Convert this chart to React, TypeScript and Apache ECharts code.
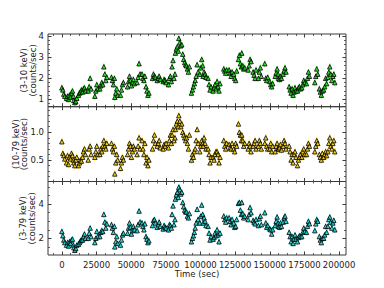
import React, { useEffect, useRef } from "react";
import * as echarts from "echarts";

// Time stamps (sec)
const times = [
  0, 700, 1400, 2100, 3400, 4100, 4800, 5500, 6250, 6950, 7650, 8350,
  8650, 9350, 10050, 10750, 12000, 12700, 13400, 14100, 14900, 15600, 16300, 17000,
  19000, 19700, 20400, 21100, 23800, 24500, 25200, 25900, 27400, 28100, 28800, 29500,
  30300, 31000, 31700, 32400, 35800, 36500, 37200, 37900, 38200, 38900, 39600, 40300,
  42300, 43000, 43700, 44400, 47400, 48100, 48800, 49500, 50200, 50900, 51600, 52300,
  54300, 55000, 55700, 56400, 57800, 58500, 59200, 59900, 60700, 61400, 62100, 62800,
  65400, 66100, 66800, 67500, 68800, 69500, 70200, 70900, 73100, 73800, 74500, 75200,
  76900, 77600, 78300, 79000, 79500, 80200, 80900, 81600, 81900, 82600, 83300, 84000,
  84400, 85100, 85800, 86500, 87200, 87900, 88600, 89300, 89900, 90600, 91300, 92000,
  93500, 94200, 94900, 95600, 96200, 96900, 97600, 98300, 99500, 100200, 100900, 101600,
  101900, 102600, 103300, 104000, 105500, 106200, 106900, 107600, 109100, 109800, 110500, 111200,
  112000, 112700, 113400, 114100, 116800, 117500, 118200, 118900, 120700, 121400, 122100, 122800,
  124000, 124700, 125400, 126100, 127400, 128100, 128800, 129500, 129800, 130500, 131200, 131900,
  134400, 135100, 135800, 136500, 138000, 138700, 139400, 140100, 141800, 142500, 143200, 143900,
  146400, 147100, 147800, 148500, 150000, 150700, 151400, 152100, 153900, 154600, 155300, 156000,
  156300, 157000, 157700, 158400, 159600, 160300, 161000, 161700, 164000, 164700, 165400, 166100,
  166800, 167500, 168200, 168900, 170000, 170700, 171400, 172100, 173100, 173800, 174500, 175200,
  176500, 177200, 177900, 178600, 182500, 183200, 183900, 184600, 185800, 186500, 187200, 187900,
  188900, 189600, 190300, 191000, 191900, 192600, 193300, 194000, 194800, 195500, 196200, 196900,
];

// 3-10 keV count rate
const rateSoft = [
  1.55, 1.45, 1.25, 1.15, 1.05, 1.15, 1.0, 1.2, 1.1, 1.3, 1.4, 1.15,
  0.95, 0.85, 0.9, 1.05, 1.2, 1.3, 1.35, 1.45, 1.35, 1.5, 1.55, 1.4,
  1.4, 1.6, 2.0, 1.5, 1.15, 1.4, 1.7, 1.5, 1.5, 1.65, 1.8, 1.7,
  2.55, 2.2, 1.9, 2.05, 2.05, 1.9, 1.7, 2.0, 1.1, 1.3, 1.5, 1.2,
  1.2, 1.45, 1.7, 1.8, 1.6, 1.85, 2.1, 1.9, 1.65, 1.8, 1.95, 1.75,
  1.8, 2.05, 2.7, 2.2, 2.2, 2.0, 1.9, 2.1, 1.6, 1.4, 1.2, 1.3,
  2.0, 2.2, 2.1, 2.05, 1.9, 2.0, 2.1, 1.95, 1.85, 1.95, 1.9, 1.8,
  1.7, 2.0, 2.1, 1.85, 2.55, 2.85, 2.0, 2.2, 3.2, 3.4, 3.5, 3.3,
  3.9, 3.7, 3.55, 3.6, 3.15, 2.9, 2.75, 2.65, 2.6, 2.45, 2.3, 2.55,
  1.3, 1.45, 1.6, 1.75, 1.9, 2.1, 2.65, 2.3, 2.2, 2.5, 2.9, 2.6,
  2.1, 2.3, 2.2, 2.05, 2.0, 1.7, 1.45, 1.6, 1.4, 1.55, 1.7, 1.5,
  1.85, 1.6, 1.4, 1.75, 2.45, 2.35, 2.25, 2.4, 2.4, 2.25, 2.1, 2.3,
  2.2, 2.0, 1.9, 2.35, 2.9, 3.1, 2.7, 2.55, 3.2, 2.6, 2.45, 2.5,
  2.4, 2.6, 2.9, 2.8, 2.3, 2.15, 2.0, 2.4, 2.0, 2.3, 2.5, 2.1,
  2.7, 2.0, 1.9, 2.05, 1.85, 1.7, 1.6, 1.75, 2.1, 2.25, 2.45, 2.2,
  2.0, 1.95, 2.1, 2.0, 2.2, 2.35, 2.5, 2.3, 1.6, 1.45, 1.3, 1.5,
  1.2, 1.35, 1.55, 1.4, 1.4, 1.55, 1.6, 1.5, 1.55, 1.7, 1.9, 1.8,
  1.75, 2.0, 2.3, 2.1, 1.8, 2.1, 2.45, 2.2, 1.5, 1.35, 1.2, 1.4,
  1.45, 1.6, 2.0, 1.75, 2.05, 2.3, 2.55, 2.2, 1.9, 2.1, 2.2, 1.8,
];

// 10-79 keV count rate
const rateHard = [
  0.83, 0.62, 0.58, 0.52, 0.45, 0.58, 0.42, 0.55, 0.52, 0.62, 0.58, 0.5,
  0.45, 0.4, 0.5, 0.55, 0.4, 0.45, 0.5, 0.48, 0.55, 0.65, 0.7, 0.6,
  0.5, 0.7, 0.75, 0.6, 0.55, 0.65, 0.75, 0.6, 0.6, 0.7, 0.65, 0.75,
  0.85, 0.75, 0.7, 0.8, 0.8, 0.7, 0.65, 0.75, 0.25, 0.45, 0.6, 0.5,
  0.35, 0.45, 0.55, 0.5, 0.6, 0.7, 0.8, 0.75, 0.55, 0.65, 0.75, 0.7,
  0.6, 0.75, 0.9, 0.7, 0.85, 0.7, 0.6, 0.8, 0.45, 0.55, 0.4, 0.5,
  0.7, 0.85, 0.95, 0.8, 0.75, 0.8, 0.85, 0.72, 0.7, 0.78, 0.75, 0.8,
  0.72, 0.85, 0.95, 0.8, 0.95, 1.05, 0.85, 0.9, 1.05, 1.15, 1.2, 1.1,
  1.3, 1.2, 1.1, 1.15, 1.0, 0.95, 0.9, 0.85, 0.9, 0.8, 0.7, 0.95,
  0.5, 0.6, 0.55, 0.65, 0.7, 0.85, 1.05, 0.8, 0.65, 0.75, 0.85, 0.8,
  0.75, 0.9, 0.8, 0.7, 0.7, 0.6, 0.45, 0.55, 0.55, 0.5, 0.6, 0.65,
  0.65, 0.6, 0.45, 0.55, 0.85, 0.75, 0.7, 0.8, 0.78, 0.72, 0.7, 0.8,
  0.7, 0.65, 0.8, 0.75, 1.15, 1.0, 0.95, 0.85, 0.95, 0.85, 0.75, 0.8,
  0.7, 0.8, 0.75, 0.65, 0.75, 0.8, 0.85, 0.7, 0.75, 0.85, 0.8, 0.7,
  0.8, 0.9, 0.75, 0.7, 0.7, 0.8, 0.65, 0.75, 0.65, 0.75, 0.8, 0.7,
  0.7, 0.72, 0.78, 0.68, 0.75, 0.85, 0.8, 0.7, 0.75, 0.65, 0.5, 0.6,
  0.45, 0.6, 0.65, 0.55, 0.4, 0.5, 0.55, 0.6, 0.55, 0.65, 0.7, 0.6,
  0.6, 0.7, 0.8, 0.75, 0.65, 0.75, 0.85, 0.8, 0.6, 0.55, 0.5, 0.62,
  0.55, 0.6, 0.65, 0.58, 0.65, 0.8, 0.9, 0.75, 0.7, 0.8, 0.85, 0.65,
];

// 3-79 keV count rate
const rateFull = [
  2.4, 2.15, 1.9, 1.75, 1.6, 1.75, 1.55, 1.8, 1.7, 1.9, 1.95, 1.6,
  1.45, 1.3, 1.4, 1.6, 1.65, 1.75, 1.85, 1.9, 1.9, 2.1, 2.25, 2.0,
  2.0, 2.3, 2.6, 2.1, 1.75, 2.0, 2.4, 2.1, 2.1, 2.35, 2.45, 2.4,
  3.4, 2.95, 2.6, 2.85, 2.8, 2.6, 2.35, 2.7, 1.5, 1.8, 2.1, 1.7,
  1.6, 1.9, 2.2, 2.3, 2.3, 2.6, 2.9, 2.65, 2.25, 2.45, 2.7, 2.5,
  2.45, 2.8, 3.6, 2.95, 2.9, 2.7, 2.5, 2.85, 2.1, 1.95, 1.75, 1.85,
  2.75, 3.05, 3.1, 2.9, 2.65, 2.8, 2.95, 2.7, 2.55, 2.75, 2.65, 2.6,
  2.5, 2.8, 2.75, 2.6, 3.4, 3.9, 2.8, 3.1, 4.3, 4.55, 4.7, 4.4,
  5.0, 4.85, 4.6, 4.7, 4.1, 3.85, 3.65, 3.55, 3.55, 3.3, 3.2, 3.45,
  1.8, 2.0, 2.15, 2.35, 2.6, 2.9, 3.7, 3.1, 2.9, 3.3, 3.95, 3.4,
  2.9, 3.2, 3.0, 2.75, 2.7, 2.3, 1.9, 2.1, 1.95, 2.05, 2.3, 2.15,
  2.5, 2.2, 1.8, 2.3, 3.3, 3.1, 2.95, 3.2, 3.2, 3.0, 2.8, 3.1,
  2.9, 2.65, 2.7, 3.1, 4.05, 4.1, 3.65, 3.4, 4.1, 3.45, 3.2, 3.3,
  3.1, 3.4, 3.8, 3.5, 3.05, 2.95, 2.85, 3.1, 2.75, 3.15, 3.3, 2.8,
  3.5, 2.9, 2.65, 2.75, 2.55, 2.5, 2.25, 2.5, 2.75, 3.0, 3.25, 2.9,
  2.7, 2.65, 2.9, 2.7, 2.95, 3.2, 3.3, 3.0, 2.35, 2.1, 1.8, 2.1,
  1.7, 1.95, 2.2, 1.95, 1.8, 2.05, 2.15, 2.1, 2.1, 2.35, 2.6, 2.4,
  2.35, 2.7, 3.0, 2.85, 2.45, 2.85, 3.1, 3.0, 2.1, 1.9, 1.75, 2.0,
  2.0, 2.2, 2.7, 2.35, 2.7, 3.1, 3.25, 2.95, 2.6, 2.9, 3.05, 2.5,
];

const panelLabels = ["(3-10 keV)", "(10-79 keV)", "(3-79 keV)"];
const unitLabel = "(counts/sec)";
const xTitle = "Time (sec)";

const xMajor = [0, 25000, 50000, 75000, 100000, 125000, 150000, 175000, 200000];
const xMinor = [
  -6250, 6250, 12500, 18750, 31250, 37500, 43750, 56250, 62500, 68750,
  81250, 87500, 93750, 106250, 112500, 118750, 131250, 137500, 143750,
  156250, 162500, 168750, 181250, 187500, 193750,
];
const yMajor1 = [1, 2, 3, 4];
const yMinor1 = [0.8, 1.2, 1.4, 1.6, 1.8, 2.2, 2.4, 2.6, 2.8, 3.2, 3.4, 3.6, 3.8];
const yMajor2 = [0.5, 1.0];
const yMinor2 = [0.2, 0.3, 0.4, 0.6, 0.7, 0.8, 0.9, 1.1, 1.2, 1.3, 1.4];
const yMajor3 = [2, 4];
const yMinor3 = [1.5, 2.5, 3, 3.5, 4.5, 5];

const X_MIN = -10000;
const X_MAX = 205000;

export default function App() {
  const ref = useRef<HTMLDivElement>(null);

  useEffect(() => {
    if (!ref.current) return;
    const chart = echarts.init(ref.current, null, { renderer: "svg" });

    const FONT = "DejaVu Sans";
    const FRAME = "#3a3a3a";
    const panels = [
      {
        top: 34, height: 72.7, min: 0.65, max: 4.11,
        major: yMajor1, minor: yMinor1, fmt: (v: number) => String(v),
        data: rateSoft, fill: "#10dc10", err: "#40ff40", errLen: 6.5,
        labelX: [24, 33],
      },
      {
        top: 106.7, height: 74.8, min: 0.113, max: 1.46,
        major: yMajor2, minor: yMinor2, fmt: (v: number) => v.toFixed(1),
        data: rateHard, fill: "#f2c800", err: "#ffe030", errLen: 7.5,
        labelX: [15.5, 24],
      },
      {
        top: 181.5, height: 73.5, min: 1.02, max: 5.33,
        major: yMajor3, minor: yMinor3, fmt: (v: number) => String(v),
        data: rateFull, fill: "#10d8d8", err: "#40f0f0", errLen: 6.5,
        labelX: [22.5, 32],
      },
    ];

    const grids: any[] = [];
    const xAxes: any[] = [];
    const yAxes: any[] = [];
    const series: any[] = [];
    const graphics: any[] = [];

    panels.forEach((p, gi) => {
      grids.push({
        left: 48, right: 38, top: p.top, height: p.height,
        show: true, borderColor: FRAME, borderWidth: 1, backgroundColor: "transparent",
      });
      const xBase = {
        type: "value", gridIndex: gi, min: X_MIN, max: X_MAX,
        axisLine: { show: false, onZero: false }, splitLine: { show: false },
      };
      const mainX = xAxes.length;
      ["bottom", "top"].forEach((pos) => {
        xAxes.push({
          ...xBase, position: pos,
          axisTick: { show: true, inside: true, length: 3.5, customValues: xMajor, lineStyle: { color: FRAME, width: 1 } },
          axisLabel: {
            show: gi === 2 && pos === "bottom", customValues: xMajor, margin: 5,
            fontFamily: FONT, fontSize: 8.5, color: "#222", hideOverlap: false,
            formatter: (v: number) => String(v),
          },
        });
        xAxes.push({
          ...xBase, position: pos,
          axisTick: { show: true, inside: true, length: 2, customValues: xMinor, lineStyle: { color: FRAME, width: 0.8 } },
          axisLabel: { show: false },
        });
      });
      const yBase = {
        type: "value", gridIndex: gi, min: p.min, max: p.max,
        axisLine: { show: false, onZero: false }, splitLine: { show: false },
      };
      const mainY = yAxes.length;
      ["left", "right"].forEach((pos) => {
        yAxes.push({
          ...yBase, position: pos,
          axisTick: { show: true, inside: true, length: 3.5, customValues: p.major, lineStyle: { color: FRAME, width: 1 } },
          axisLabel: {
            show: pos === "left", customValues: p.major, margin: 4,
            fontFamily: FONT, fontSize: 8.5, color: "#222", formatter: p.fmt,
          },
        });
        yAxes.push({
          ...yBase, position: pos,
          axisTick: { show: true, inside: true, length: 2, customValues: p.minor, lineStyle: { color: FRAME, width: 0.8 } },
          axisLabel: { show: false },
        });
      });
      const pts = times.map((t, i) => [t, p.data[i]]);
      series.push({
        type: "scatter", xAxisIndex: mainX, yAxisIndex: mainY,
        data: pts, symbol: "rect", symbolSize: [1.2, p.errLen],
        itemStyle: { color: p.err }, silent: true, z: 2,
      });
      series.push({
        type: "scatter", xAxisIndex: mainX, yAxisIndex: mainY,
        data: pts, symbol: "triangle", symbolSize: [4.5, 4.5],
        itemStyle: { color: p.fill, borderColor: "#000", borderWidth: 1 },
        z: 3,
      });
      const cy = p.top + p.height / 2;
      graphics.push({
        type: "text", x: p.labelX[0], y: cy, rotation: Math.PI / 2,
        style: { text: panelLabels[gi], fontFamily: FONT, fontSize: 8.5, fill: "#222", textAlign: "center", textVerticalAlign: "middle" },
      });
      graphics.push({
        type: "text", x: p.labelX[1], y: cy, rotation: Math.PI / 2,
        style: { text: unitLabel, fontFamily: FONT, fontSize: 8.5, fill: "#222", textAlign: "center", textVerticalAlign: "middle" },
      });
    });

    graphics.push({
      type: "text", x: 197, y: 273.5,
      style: { text: xTitle, fontFamily: FONT, fontSize: 8.5, fill: "#222", textAlign: "center", textVerticalAlign: "middle" },
    });

    chart.setOption({
      animation: false,
      backgroundColor: "#fff",
      grid: grids,
      xAxis: xAxes,
      yAxis: yAxes,
      series,
      graphic: graphics,
    });

    return () => chart.dispose();
  }, []);

  return (
    <div
      ref={ref}
      style={{ position: "fixed", left: 0, top: 0, width: 384, height: 288 }}
    />
  );
}
